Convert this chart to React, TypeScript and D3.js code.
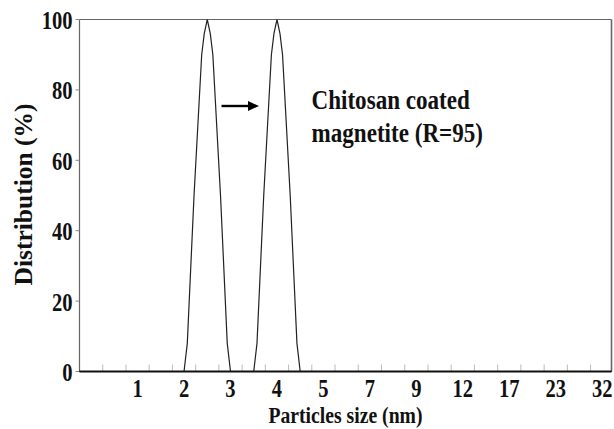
import React from 'react';
import * as d3 from 'd3';

// x positions are in bin units of the size axis (one bin between two minor ticks)
const sizeLabels = ['1', '2', '3', '4', '5', '7', '9', '12', '17', '23', '32'];
const labelBins = [2.5, 4.5, 6.5, 8.5, 10.5, 12.5, 14.5, 16.5, 18.5, 20.5, 22.5];
const minorTicks = d3.range(1, 23);
const yTicks = [0, 20, 40, 60, 80, 100];

const bareBins = [0, 4.5, 4.64, 4.93, 5.26, 5.37, 5.5, 5.63, 5.74, 6.07, 6.36, 6.5, 22.9];
const bareValues = [0, 0, 8, 50, 90, 96, 100, 96, 90, 50, 8, 0, 0];

const coatedBins = [0, 7.5, 7.64, 7.93, 8.26, 8.37, 8.5, 8.63, 8.74, 9.07, 9.36, 9.5, 22.9];
const coatedValues = [0, 0, 8, 50, 90, 96, 100, 96, 90, 50, 8, 0, 0];

const W = 614;
const H = 429;
const margin = { top: 19.5, right: 2.5, bottom: 57.5, left: 79.5 };
const font = '"Liberation Serif", "Times New Roman", serif';
const sx = 0.84;

const App = () => {
  const x = d3.scaleLinear().domain([0, 22.9]).range([margin.left, W - margin.right]);
  const y = d3.scaleLinear().domain([0, 100]).range([H - margin.bottom, margin.top]);

  const line = d3.line<[number, number]>()
    .x(d => x(d[0]))
    .y(d => y(d[1]));

  const bare = bareBins.map((b, i) => [b, bareValues[i]] as [number, number]);
  const coated = coatedBins.map((b, i) => [b, coatedValues[i]] as [number, number]);

  const x0 = x(0), x1 = x(22.9), yTop = y(100), yBot = y(0);

  return (
    <svg width={W} height={H} style={{ position: 'absolute', left: 0, top: 0, background: '#fff' }}>
      {/* frame */}
      <line x1={x0} x2={x0} y1={yTop} y2={yBot} stroke="#666" strokeWidth={1.2} />
      <line x1={x0} x2={x1} y1={yTop} y2={yTop} stroke="#666" strokeWidth={1.2} />
      <line x1={x1} x2={x1} y1={yTop} y2={yBot} stroke="#666" strokeWidth={1.6} />

      {/* y ticks */}
      {yTicks.map(t => (
        <g key={t}>
          <line x1={x0 - 4} x2={x0} y1={y(t)} y2={y(t)} stroke="#888" strokeWidth={1} />
          <text transform={`translate(${x0 - 7},${y(t) + 9.5}) scale(${sx},1)`} textAnchor="end"
            fontFamily={font} fontWeight="bold" fontSize={24.5} fill="#111">{t}</text>
        </g>
      ))}

      {/* x minor ticks */}
      {minorTicks.map(k => (
        <line key={k} x1={x(k)} x2={x(k)} y1={yBot - 7} y2={yBot} stroke="#bbb" strokeWidth={1} />
      ))}

      {/* x labels */}
      {sizeLabels.map((l, i) => (
        <text key={l} transform={`translate(${x(labelBins[i])},397) scale(${sx},1)`} textAnchor="middle"
          fontFamily={font} fontWeight="bold" fontSize={24.5} fill="#111">{l}</text>
      ))}

      {/* curves */}
      <path d={line(bare) || ''} fill="none" stroke="#222" strokeWidth={1.2} />
      <path d={line(coated) || ''} fill="none" stroke="#222" strokeWidth={1.2} />

      {/* bottom axis */}
      <line x1={x0} x2={x1} y1={yBot} y2={yBot} stroke="#111" strokeWidth={2} />

      {/* arrow */}
      <line x1={221.5} x2={250} y1={106} y2={106} stroke="#000" strokeWidth={2.4} />
      <path d="M248,101 L259,106 L248,111 Z" fill="#000" />

      {/* annotation */}
      <text transform={`translate(311.5,108.5) scale(${sx},1)`} fontFamily={font} fontWeight="bold"
        fontSize={27.5} fill="#111">Chitosan coated</text>
      <text transform={`translate(311.5,141.5) scale(${sx},1)`} fontFamily={font} fontWeight="bold"
        fontSize={27.5} fill="#111">magnetite (R=95)</text>

      {/* axis titles */}
      <text transform={`translate(${(x0 + x1) / 2},423) scale(0.82,1)`} textAnchor="middle"
        fontFamily={font} fontWeight="bold" fontSize={24} fill="#111">Particles size (nm)</text>
      <text transform={`translate(32,${(yTop + yBot) / 2 - 1}) rotate(-90)`} textAnchor="middle"
        fontFamily={font} fontWeight="bold" fontSize={26} fill="#111"
        textLength={182} lengthAdjust="spacingAndGlyphs">Distribution (%)</text>
    </svg>
  );
};

export default App;
